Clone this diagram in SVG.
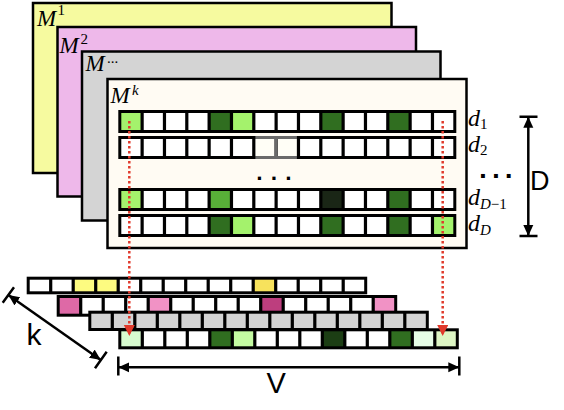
<svg xmlns="http://www.w3.org/2000/svg" xmlns:xlink="http://www.w3.org/1999/xlink" width="564" height="410" viewBox="0 0 564 410">
<style>
.frame{stroke:#000;stroke-width:2.5}
.rowbg{stroke:none}
.outline{fill:none;stroke:#000;stroke-width:3}
.sep{fill:none;stroke:#000;stroke-width:3.2}
.lg{fill:#a4f26c}.dg{fill:#306e20}.mg{fill:#58b038}.vd{fill:#1a2616}
.m{font-family:"Liberation Serif","Times New Roman",serif;font-style:italic;font-size:23px;fill:#000}
.sup{font-family:"Liberation Serif","Times New Roman",serif;font-size:15px;fill:#000}
.d{font-family:"Liberation Serif","Times New Roman",serif;font-style:italic;font-size:24px;fill:#000}
.sub{font-size:15px}
.big{font-family:"Liberation Sans",Arial,sans-serif;fill:#000}
.dots{font-family:"DejaVu Sans","Liberation Sans",sans-serif;font-weight:bold;fill:#000}
.red{fill:none;stroke:#e0392b;stroke-width:2.5;stroke-dasharray:2.5 2.5}
.dim{fill:none;stroke:#000;stroke-width:2.5}
</style>
<defs>
<path id="sepM" class="sep" d="M22.33 0v20M44.67 0v20M67 0v20M89.33 0v20M111.67 0v20M134 0v20M156.33 0v20M178.67 0v20M201 0v20M223.33 0v20M245.67 0v20M268 0v20M290.33 0v20M312.67 0v20"/>
<path id="sepB" class="sep" d="M22.5 0v18M45 0v18M67.5 0v18M90 0v18M112.5 0v18M135 0v18M157.5 0v18M180 0v18M202.5 0v18M225 0v18M247.5 0v18M270 0v18M292.5 0v18M315 0v18"/>
<marker id="ra" markerUnits="userSpaceOnUse" markerWidth="12" markerHeight="12" refX="11" refY="5.5" orient="auto"><path d="M0 0L11 5.5L0 11z" fill="#e0392b"/></marker>
<marker id="ba" markerUnits="userSpaceOnUse" markerWidth="12" markerHeight="12" refX="11" refY="5.5" orient="auto-start-reverse"><path d="M0 0.5L11 5.5L0 10.5z" fill="#000"/></marker>
</defs>

<g id="frame-M1">
<rect class="frame" x="33" y="3" width="358.5" height="170" fill="#f6fa9f"/>
<text class="m" x="37" y="25.5">M</text><text class="sup" x="57.5" y="15">1</text>
</g>
<g id="frame-M2">
<rect class="frame" x="57.5" y="27" width="358.5" height="169.5" fill="#eeb8ea"/>
<text class="m" x="59.5" y="52.5">M</text><text class="sup" x="80.5" y="44">2</text>
</g>
<g id="frame-Mdots">
<rect class="frame" x="82" y="51.5" width="358.5" height="169" fill="#d4d4d4"/>
<text class="m" x="85.5" y="71">M</text><text class="sup" x="107" y="63">...</text>
</g>
<g id="frame-Mk">
<rect class="frame" x="107.5" y="79" width="359" height="169" fill="#fffbf3"/>
<text class="m" x="110.5" y="103">M</text><text class="sup" x="132" y="94.5" font-style="italic">k</text>
</g>

<g id="matrix-Mk">
<g id="row-d1" transform="translate(119.8,111.5)">
<rect class="rowbg" width="335" height="20" fill="#fff"/>
<rect class="lg" x="0" width="22.33" height="20"/><rect class="dg" x="89.33" width="22.33" height="20"/><rect class="lg" x="111.67" width="22.33" height="20"/><rect class="dg" x="201" width="22.33" height="20"/><rect class="dg" x="268" width="22.33" height="20"/>
<rect class="outline" width="335" height="20"/><use xlink:href="#sepM" href="#sepM"/>
</g>
<g id="row-d2" transform="translate(119.8,137.5)">
<rect class="rowbg" width="335" height="20" fill="#fff"/>
<rect x="134" width="44.67" height="20" fill="#fffef6"/>
<rect class="outline" width="335" height="20"/><use xlink:href="#sepM" href="#sepM"/>
<path d="M135.6 0h41.5M135.6 20h41.5M156.33 1.5v17" fill="none" stroke="#6a6a6a" stroke-width="3"/>
</g>
<text class="dots" x="256" y="179.5" font-size="18" letter-spacing="7.7">...</text>
<g id="row-dD-1" transform="translate(119.8,189.5)">
<rect class="rowbg" width="335" height="20" fill="#fff"/>
<rect class="lg" x="0" width="22.33" height="20"/><rect class="mg" x="89.33" width="22.33" height="20"/><rect class="vd" x="201" width="22.33" height="20"/><rect class="dg" x="268" width="22.33" height="20"/>
<rect class="outline" width="335" height="20"/><use xlink:href="#sepM" href="#sepM"/>
</g>
<g id="row-dD" transform="translate(119.8,215.5)">
<rect class="rowbg" width="335" height="20" fill="#fff"/>
<rect class="dg" x="89.33" width="22.33" height="20"/><rect class="lg" x="111.67" width="22.33" height="20"/><rect class="dg" x="201" width="22.33" height="20"/><rect class="dg" x="268" width="22.33" height="20"/><rect class="lg" x="312.67" width="22.33" height="20"/>
<rect class="outline" width="335" height="20"/><use xlink:href="#sepM" href="#sepM"/>
</g>
</g>

<g id="row-labels">
<text class="d" x="468" y="125.5">d<tspan class="sub" font-style="normal" dy="3.5">1</tspan></text>
<text class="d" x="468" y="151.5">d<tspan class="sub" font-style="normal" dy="3">2</tspan></text>
<text class="dots" x="478.7" y="178" font-size="22" letter-spacing="4.6">...</text>
<text class="d" x="468" y="205">d<tspan class="sub" dy="3.5">D</tspan><tspan class="sub" font-style="normal">−1</tspan></text>
<text class="d" x="468" y="231">d<tspan class="sub" dy="3.5">D</tspan></text>
</g>

<g id="stack">
<g id="stack-row-1" transform="translate(28.2,278.2)">
<rect class="rowbg" width="337.5" height="14.6" fill="#fff"/>
<rect x="45" width="45" height="14.6" fill="#fdfb80"/><rect x="225" width="22.5" height="14.6" fill="#f7e25c"/>
<rect class="outline" width="337.5" height="14.6"/><use xlink:href="#sepB" href="#sepB" transform="scale(1,0.811)"/>
</g>
<g id="stack-row-2" transform="translate(58.2,296.5)">
<rect class="rowbg" width="337.5" height="18.7" fill="#fff"/>
<rect x="0" width="22.5" height="18.7" fill="#de69a6"/><rect x="90" width="22.5" height="18.7" fill="#f192c5"/><rect x="202.5" width="22.5" height="18.7" fill="#bd3e7e"/><rect x="315" width="22.5" height="18.7" fill="#f192c5"/>
<rect class="outline" width="337.5" height="18.7"/><use xlink:href="#sepB" href="#sepB" transform="scale(1,1.039)"/>
</g>
<g id="stack-row-3" transform="translate(89.8,312.2)">
<rect class="rowbg" width="337.5" height="17.3" fill="#d4d4d4"/>
<rect class="outline" width="337.5" height="17.3"/><use xlink:href="#sepB" href="#sepB" transform="scale(1,0.961)"/>
</g>
<g id="stack-row-k" transform="translate(119.8,329.8)">
<rect class="rowbg" width="337.5" height="18" fill="#fff"/>
<rect x="0" width="22.5" height="18" fill="#d8fcd0"/><rect x="90" width="22.5" height="18" fill="#306e20"/><rect x="112.5" width="22.5" height="18" fill="#c4fba2"/><rect x="202.5" width="22.5" height="18" fill="#1c3e14"/><rect x="270" width="22.5" height="18" fill="#306e20"/><rect x="292.5" width="22.5" height="18" fill="#e6fde6"/><rect x="315" width="22.5" height="18" fill="#ddf6c4"/>
<rect class="outline" width="337.5" height="18"/><use xlink:href="#sepB" href="#sepB"/>
</g>
</g>

<g id="connectors">
<line class="red" x1="129.3" y1="121" x2="129.3" y2="336" marker-end="url(#ra)"/>
<line class="red" x1="442.7" y1="121" x2="442.7" y2="336" marker-end="url(#ra)"/>
<path class="dim" d="M519.5 116.7h18M519.5 236h18"/>
<line class="dim" x1="528.3" y1="116.7" x2="528.3" y2="236" marker-start="url(#ba)" marker-end="url(#ba)"/>
<path class="dim" d="M118.3 356.5v19M459.3 356.5v19"/>
<line class="dim" x1="118.3" y1="367.3" x2="459.3" y2="367.3" marker-start="url(#ba)" marker-end="url(#ba)"/>
<path class="dim" d="M2.7 302.7L14 287.3M95 368.3L106.7 351.7"/>
<line class="dim" x1="8.35" y1="295" x2="100.8" y2="360" marker-start="url(#ba)" marker-end="url(#ba)"/>
</g>

<g id="dim-labels">
<text class="big" x="530" y="190" font-size="27">D</text>
<text class="big" x="26.5" y="345" font-size="30">k</text>
<text class="big" x="266.5" y="393.3" font-size="29">V</text>
</g>
</svg>
